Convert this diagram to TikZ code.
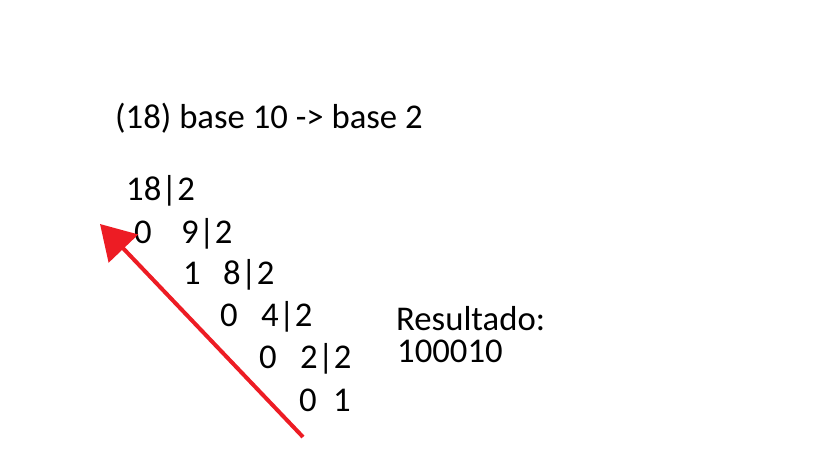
\documentclass[tikz,border=0pt]{standalone}
\usepackage{fontspec}
\setmainfont{Carlito}
\usetikzlibrary{arrows.meta}
\definecolor{paintred}{RGB}{237,28,36}

\begin{document}
\begin{tikzpicture}
	[x=1pt,y=-1pt,
	 txt/.style={anchor=base west,inner sep=0pt,font=\fontsize{34.7}{40}\selectfont},
	 back/.style={draw=paintred,line width=4pt,-{Triangle[length=34pt,width=40pt]}}]
\useasboundingbox (0,0) rectangle (819,460);
\node[txt] (title) at (115,128) {(18) base 10 -> base 2};
\node[txt] (q0) at (126,200) {18|2};
% remainders and quotients, one row each
\foreach \r/\xr/\q/\xq/\y [count=\i] in {0/134/9|2/181/243, 1/183/8|2/223/284,
  0/220/4|2/261/326, 0/259/2|2/300/368, 0/299/1/333/411}
{
\node[txt] (r\i) at (\xr,\y) {\r};
\node[txt] (q\i) at (\xq,\y) {\q};
}
\node[txt] (res) at (396,330) {Resultado:};
\node[txt] (bits) at (397,362) {100010};
\coordinate (start) at (303,437);
\coordinate (tip) at (100,224);
\draw[back] (start) -- (tip);
\end{tikzpicture}
\end{document}
